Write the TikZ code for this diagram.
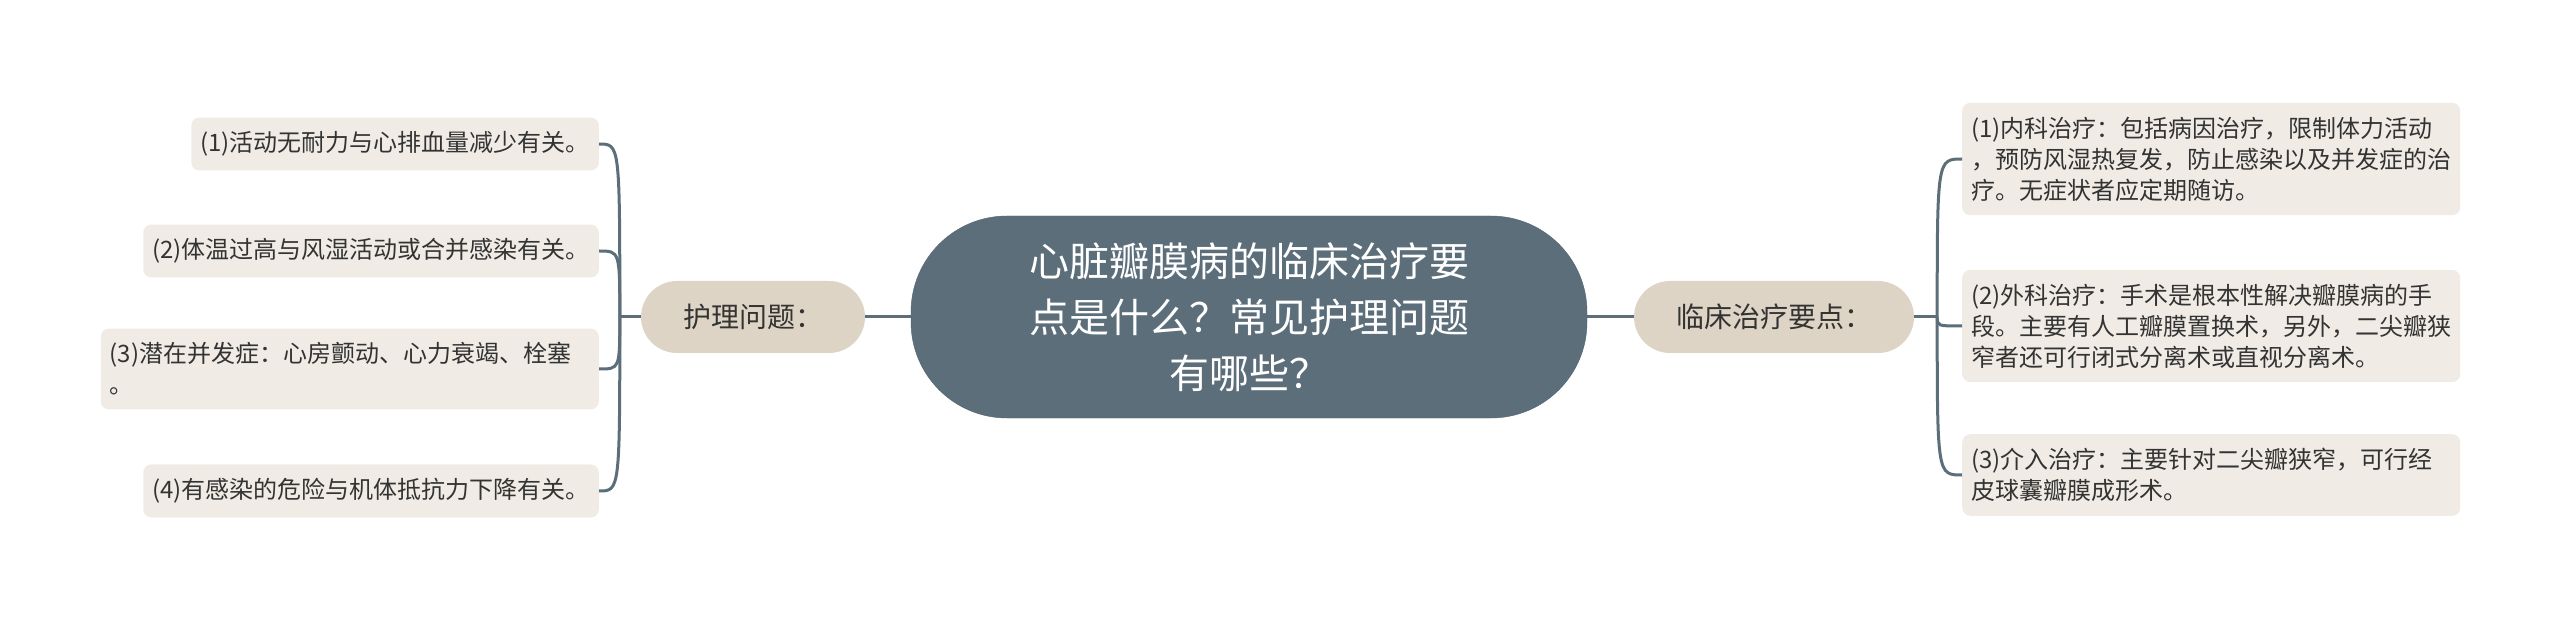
\documentclass[tikz,border=0pt]{standalone}
\usepackage{fontspec}
\setmainfont{Noto Sans CJK SC}
\definecolor{slate}{HTML}{5B6E7A}
\definecolor{sand}{HTML}{DDD4C5}
\definecolor{paper}{HTML}{F0ECE5}
\definecolor{ink}{HTML}{333333}
\begin{document}
\begin{tikzpicture}[
        x=1pt,y=-1pt,
        topic/.style={draw=slate!90!black,fill=slate,text=white,rounded corners=96pt,
            minimum width=676pt,minimum height=202pt,align=center,
            font=\fontsize{40pt}{56pt}\selectfont},
        subtopic/.style={fill=sand,text=ink,rounded corners=36pt,minimum height=72pt,
            inner xsep=42pt,font=\fontsize{28pt}{34pt}\selectfont},
        note/.style={fill=paper,text=ink,rounded corners=8pt,inner xsep=9pt,inner ysep=14pt,
            align=left,font=\fontsize{24pt}{31pt}\selectfont},
        wide/.style={note,text width=480pt},
        link/.style={draw=slate,line width=3pt},
        ]
    \useasboundingbox (0,0) rectangle (2560,620);
    \node (root) [topic] at (1249,317) {心脏瓣膜病的临床治疗要\\点是什么？常见护理问题\\有哪些？};
    \node (care) [subtopic] at (753,317) {护理问题：};
    \node (cure) [subtopic] at (1774,317) {临床治疗要点：};
    % left side
    \node (l1) [note, anchor=east] at (599,144) {(1)活动无耐力与心排血量减少有关。};
    \node (l2) [note, anchor=east] at (599,251) {(2)体温过高与风湿活动或合并感染有关。};
    \node (l3) [wide, anchor=east] at (599,369) {(3)潜在并发症：心房颤动、心力衰竭、栓塞\\。};
    \node (l4) [note, anchor=east] at (599,491) {(4)有感染的危险与机体抵抗力下降有关。};
    % right side
    \node (r1) [wide, anchor=west] at (1962,159) {(1)内科治疗：包括病因治疗，限制体力活动\\，预防风湿热复发，防止感染以及并发症的治\\疗。无症状者应定期随访。};
    \node (r2) [wide, anchor=west] at (1962,326) {(2)外科治疗：手术是根本性解决瓣膜病的手\\段。主要有人工瓣膜置换术，另外，二尖瓣狭\\窄者还可行闭式分离术或直视分离术。};
    \node (r3) [wide, anchor=west] at (1962,475) {(3)介入治疗：主要针对二尖瓣狭窄，可行经\\皮球囊瓣膜成形术。};
    \draw[link] (root.west) -- (care.east);
    \draw[link] (root.east) -- (cure.west);
    \coordinate (lj) at ([xshift=-21pt]care.west);
    \coordinate (rj) at ([xshift=23pt]cure.east);
    \draw[link] (care.west) -- (lj);
    \draw[link] (cure.east) -- (rj);
    \foreach \n in {l1,l2,l3,l4}
        \draw[link] (lj) .. controls (lj |- \n.east) .. (\n.east);
    \foreach \n in {r1,r2,r3}
        \draw[link] (rj) .. controls (rj |- \n.west) .. (\n.west);
\end{tikzpicture}
\end{document}
